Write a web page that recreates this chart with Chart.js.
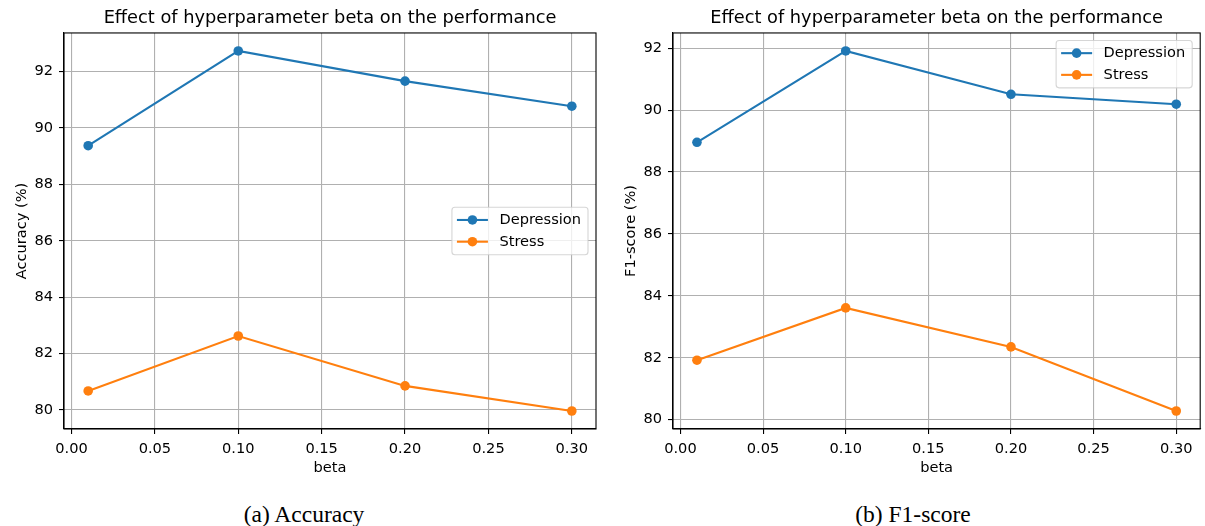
<!DOCTYPE html>
<html>
<head>
<meta charset="utf-8">
<title>Effect of hyperparameter beta</title>
<script src="https://cdn.jsdelivr.net/npm/chart.js@4.4.0/dist/chart.umd.min.js"></script>
<style>
    body {
        margin: 0;
        width: 1205px;
        height: 526px;
        overflow: hidden;
        position: relative;
        background: #fff;
    }
    canvas {
        position: absolute;
        top: 0;
    }
    #accuracyChart { left: 0; }
    #f1Chart { left: 609px; }
    .caption {
        position: absolute;
        top: 500px;
        transform: translateX(-50%);
        font-family: "Liberation Serif", serif;
        font-size: 23.5px;
        line-height: 28px;
        white-space: nowrap;
        color: #000;
    }
</style>
</head>
<body>
<canvas id="accuracyChart" width="605" height="480" style="width:605px;height:480px"></canvas>
<canvas id="f1Chart" width="596" height="480" style="width:596px;height:480px"></canvas>
<div class="caption" style="left:304px">(a) Accuracy</div>
<div class="caption" style="left:913px">(b) F1-score</div>

<script>
const betaValues = [0.01, 0.1, 0.2, 0.3]
const xTickValues = [0, 0.05, 0.1, 0.15, 0.2, 0.25, 0.3]
const seriesNames = ["Depression", "Stress"]

const accuracyDepression = [89.37, 92.73, 91.66, 90.77]
const accuracyStress = [80.67, 82.62, 80.85, 79.96]

const f1Depression = [88.96, 91.91, 90.51, 90.19]
const f1Stress = [81.92, 83.61, 82.35, 80.28]

const chartTitle = "Effect of hyperparameter beta on the performance"
const seriesColors = ["#1f77b4", "#ff7f0e"]

const labelSize = 14.6

Chart.defaults.font.family = '"DejaVu Sans", sans-serif'
Chart.defaults.color = "#000"

// matplotlib style 5% margin around the data
function paddedRange(values) {
    const lo = Math.min(...values)
    const hi = Math.max(...values)
    const pad = (hi - lo) * 0.05
    return { min: lo - pad, max: hi + pad }
}

// frame on all four sides of the plot area
const frameBox = {
    id: "frameBox",
    afterDraw(chart) {
        const { ctx, chartArea } = chart
        ctx.save()
        ctx.strokeStyle = "#000"
        ctx.lineWidth = 1.1
        ctx.strokeRect(chartArea.left, chartArea.top,
            chartArea.right - chartArea.left, chartArea.bottom - chartArea.top)
        ctx.restore()
    }
}

// legend drawn inside the plot area, like matplotlib
const innerLegend = {
    id: "innerLegend",
    afterDraw(chart, args, opts) {
        const { ctx, chartArea } = chart
        const sets = chart.data.datasets
        ctx.save()
        ctx.font = labelSize + 'px "DejaVu Sans"'
        const textW = Math.max(...sets.map(d => ctx.measureText(d.label).width))
        const rowH = 21.7
        const boxW = 47.5 + textW + 7
        const boxH = sets.length * rowH + 4
        const x = chartArea.right - 8 - boxW
        const y = opts.vertical === "center"
            ? (chartArea.top + chartArea.bottom) / 2 - boxH / 2
            : chartArea.top + 7.5

        ctx.beginPath()
        ctx.roundRect(x, y, boxW, boxH, 3)
        ctx.fillStyle = "rgba(255,255,255,0.8)"
        ctx.fill()
        ctx.strokeStyle = "rgba(204,204,204,0.8)"
        ctx.lineWidth = 1.1
        ctx.stroke()

        sets.forEach((d, i) => {
            const cy = y + 12.7 + i * rowH
            ctx.strokeStyle = d.borderColor
            ctx.lineWidth = 2.1
            ctx.beginPath()
            ctx.moveTo(x + 5, cy)
            ctx.lineTo(x + 36, cy)
            ctx.stroke()
            ctx.fillStyle = d.borderColor
            ctx.beginPath()
            ctx.arc(x + 20.5, cy, 4.8, 0, Math.PI * 2)
            ctx.fill()
            ctx.fillStyle = "#000"
            ctx.textBaseline = "middle"
            ctx.fillText(d.label, x + 47.5, cy + 0.5)
        })
        ctx.restore()
    }
}

function makeDataset(label, values, color) {
    return {
        label,
        data: betaValues.map((b, i) => ({ x: b, y: values[i] })),
        borderColor: color,
        backgroundColor: color,
        borderWidth: 2.1,
        pointRadius: 4.8,
        pointBorderWidth: 0,
        pointHoverRadius: 4.8,
        tension: 0
    }
}

function drawChart(canvasId, yLabel, depression, stress, legendVertical, rightPad) {
    const yRange = paddedRange(depression.concat(stress))
    const xRange = paddedRange(betaValues)

    new Chart(document.getElementById(canvasId), {
        type: "line",
        data: {
            datasets: [
                makeDataset(seriesNames[0], depression, seriesColors[0]),
                makeDataset(seriesNames[1], stress, seriesColors[1])
            ]
        },
        options: {
            responsive: false,
            animation: false,
            events: [],
            layout: { padding: { top: 0, right: rightPad, bottom: 0, left: 0 } },
            plugins: {
                legend: { display: false },
                tooltip: { enabled: false },
                title: {
                    display: true,
                    text: chartTitle,
                    fullSize: false,
                    color: "#000",
                    font: { size: 17.8, weight: "normal" },
                    padding: { top: 7.5, bottom: 4.1 }
                },
                innerLegend: { vertical: legendVertical }
            },
            scales: {
                x: {
                    type: "linear",
                    min: xRange.min,
                    max: xRange.max,
                    afterFit: scale => { scale.height = 51 },
                    afterBuildTicks: scale => {
                        scale.ticks = xTickValues.map(v => ({ value: v }))
                    },
                    ticks: {
                        font: { size: labelSize },
                        padding: 6,
                        maxRotation: 0,
                        callback: v => v.toFixed(2)
                    },
                    grid: {
                        color: "#b0b0b0",
                        lineWidth: 1.1,
                        tickLength: 5,
                        tickColor: "#000",
                        tickWidth: 1.1
                    },
                    border: { color: "#000", width: 1.1 },
                    title: {
                        display: true,
                        text: "beta",
                        font: { size: labelSize },
                        padding: { top: 0, bottom: 3 }
                    }
                },
                y: {
                    type: "linear",
                    min: yRange.min,
                    max: yRange.max,
                    afterFit: scale => { scale.width = 64 },
                    ticks: {
                        stepSize: 2,
                        includeBounds: false,
                        font: { size: labelSize },
                        padding: 6,
                        callback: v => v.toFixed(0)
                    },
                    grid: {
                        color: "#b0b0b0",
                        lineWidth: 1.1,
                        tickLength: 5,
                        tickColor: "#000",
                        tickWidth: 1.1
                    },
                    border: { color: "#000", width: 1.1 },
                    title: {
                        display: true,
                        text: yLabel,
                        font: { size: labelSize },
                        padding: { top: 13, bottom: 0 }
                    }
                }
            }
        },
        plugins: [frameBox, innerLegend]
    })
}

document.addEventListener("DOMContentLoaded", function () {
    drawChart("accuracyChart", "Accuracy (%)", accuracyDepression, accuracyStress, "center", 9)
    drawChart("f1Chart", "F1-score (%)", f1Depression, f1Stress, "top", 1)
})
</script>
</body>
</html>
